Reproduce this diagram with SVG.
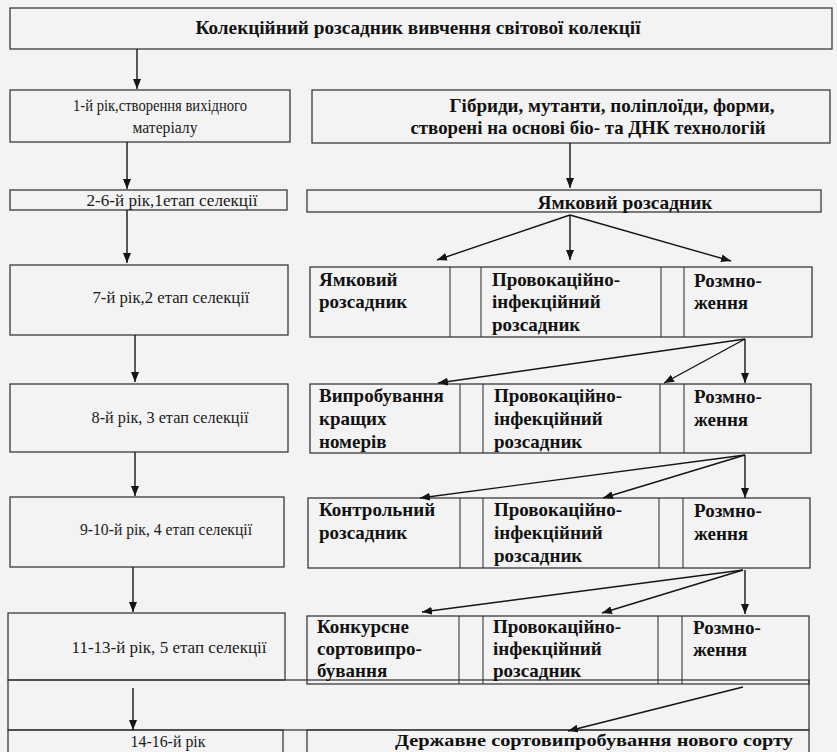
<svg xmlns="http://www.w3.org/2000/svg" width="837" height="752" viewBox="0 0 837 752">
  <defs>
    <marker id="arrow" viewBox="0 0 10 8" refX="10" refY="4" markerWidth="10" markerHeight="8" markerUnits="userSpaceOnUse" orient="auto">
      <path d="M0,0 L10,4 L0,8 z" fill="#151515"/>
    </marker>
  </defs>
  <style>
    .box { fill: none; stroke: #3a3a3a; stroke-width: 1.3; }
    .div { stroke: #3a3a3a; stroke-width: 1.1; }
    .conn line { stroke: #151515; stroke-width: 1.4; marker-end: url(#arrow); }
    text { font-family: 'Liberation Serif', 'DejaVu Serif', 'Times New Roman', serif; }
    .reg { font-size: 16px; fill: #1a1a1a; }
    .hdr { font-size: 19px; font-weight: bold; fill: #111; }
    .cell { font-size: 19px; font-weight: bold; fill: #111; }
  </style>

  <rect width="837" height="752" fill="#f3f3f3"/>

  <!-- top: collection nursery -->
  <g id="collection">
    <rect class="box" x="10" y="8" width="822" height="41"/>
    <text class="hdr" x="418" y="34" text-anchor="middle" textLength="445" lengthAdjust="spacingAndGlyphs">Колекційний розсадник вивчення світової колекції</text>
  </g>

  <!-- left column: years and stages -->
  <g id="year1">
    <rect class="box" x="10" y="90" width="280" height="52"/>
    <text class="reg" x="160" y="111" text-anchor="middle" textLength="174" lengthAdjust="spacingAndGlyphs">1-й рік,створення вихідного</text>
    <text class="reg" x="165" y="133" text-anchor="middle" textLength="65" lengthAdjust="spacingAndGlyphs">матеріалу</text>
  </g>
  <g id="year2-6">
    <rect class="box" x="10" y="190" width="277" height="20"/>
    <text class="reg" x="172" y="206" text-anchor="middle" textLength="171" lengthAdjust="spacingAndGlyphs">2-6-й рік,1етап селекції</text>
  </g>
  <g id="year7">
    <rect class="box" x="10" y="265" width="278" height="70"/>
    <text class="reg" x="171" y="303" text-anchor="middle" textLength="157" lengthAdjust="spacingAndGlyphs">7-й рік,2 етап селекції</text>
  </g>
  <g id="year8">
    <rect class="box" x="10" y="384" width="278" height="68"/>
    <text class="reg" x="170" y="423" text-anchor="middle" textLength="157" lengthAdjust="spacingAndGlyphs">8-й рік, 3 етап селекції</text>
  </g>
  <g id="year9-10">
    <rect class="box" x="10" y="497" width="274" height="70"/>
    <text class="reg" x="166" y="535" text-anchor="middle" textLength="172" lengthAdjust="spacingAndGlyphs">9-10-й рік, 4 етап селекції</text>
  </g>
  <g id="year11-13">
    <rect class="box" x="8" y="613" width="277" height="67"/>
    <text class="reg" x="169" y="653" text-anchor="middle" textLength="195" lengthAdjust="spacingAndGlyphs">11-13-й рік, 5 етап селекції</text>
  </g>
  <g id="band">
    <rect class="box" x="8" y="680" width="801" height="50"/>
  </g>
  <g id="year14-16">
    <rect class="box" x="8" y="730" width="275" height="30"/>
    <text class="reg" x="168" y="747" text-anchor="middle" textLength="75" lengthAdjust="spacingAndGlyphs">14-16-й рік</text>
  </g>

  <!-- right column: source material and nurseries -->
  <g id="hybrids">
    <rect class="box" x="312" y="90" width="518" height="53"/>
    <text class="hdr" x="612" y="112" text-anchor="middle" textLength="325" lengthAdjust="spacingAndGlyphs">Гібриди, мутанти, поліплоїди, форми,</text>
    <text class="hdr" x="588" y="134" text-anchor="middle" textLength="355" lengthAdjust="spacingAndGlyphs">створені на основі біо- та ДНК технологій</text>
  </g>
  <g id="pit-nursery">
    <rect class="box" x="307" y="190" width="514" height="22"/>
    <text class="hdr" x="625" y="209" text-anchor="middle" textLength="175" lengthAdjust="spacingAndGlyphs">Ямковий розсадник</text>
  </g>

  <g id="stage2">
    <rect class="box" x="310" y="267" width="502" height="70"/>
    <line class="div" x1="450" y1="267" x2="450" y2="337"/>
    <line class="div" x1="481" y1="267" x2="481" y2="337"/>
    <line class="div" x1="661" y1="267" x2="661" y2="337"/>
    <line class="div" x1="684" y1="267" x2="684" y2="337"/>
    <text class="cell" x="319" y="286">Ямковий</text>
    <text class="cell" x="319" y="308">розсадник</text>
    <text class="cell" x="492" y="286">Провокаційно-</text>
    <text class="cell" x="492" y="308">інфекційний</text>
    <text class="cell" x="492" y="331">розсадник</text>
    <text class="cell" x="694" y="287">Розмно-</text>
    <text class="cell" x="694" y="309">ження</text>
  </g>

  <g id="stage3">
    <rect class="box" x="310" y="384" width="501" height="69"/>
    <line class="div" x1="460" y1="384" x2="460" y2="453"/>
    <line class="div" x1="483" y1="384" x2="483" y2="453"/>
    <line class="div" x1="660" y1="384" x2="660" y2="453"/>
    <line class="div" x1="684" y1="384" x2="684" y2="453"/>
    <text class="cell" x="319" y="402">Випробування</text>
    <text class="cell" x="319" y="425">кращих</text>
    <text class="cell" x="319" y="448">номерів</text>
    <text class="cell" x="494" y="402">Провокаційно-</text>
    <text class="cell" x="494" y="425">інфекційний</text>
    <text class="cell" x="494" y="448">розсадник</text>
    <text class="cell" x="694" y="403">Розмно-</text>
    <text class="cell" x="694" y="426">ження</text>
  </g>

  <g id="stage4">
    <rect class="box" x="308" y="498" width="502" height="70"/>
    <line class="div" x1="460" y1="498" x2="460" y2="568"/>
    <line class="div" x1="483" y1="498" x2="483" y2="568"/>
    <line class="div" x1="659" y1="498" x2="659" y2="568"/>
    <line class="div" x1="683" y1="498" x2="683" y2="568"/>
    <text class="cell" x="319" y="516">Контрольний</text>
    <text class="cell" x="319" y="539">розсадник</text>
    <text class="cell" x="494" y="516">Провокаційно-</text>
    <text class="cell" x="494" y="539">інфекційний</text>
    <text class="cell" x="494" y="562">розсадник</text>
    <text class="cell" x="694" y="517">Розмно-</text>
    <text class="cell" x="694" y="540">ження</text>
  </g>

  <g id="stage5">
    <rect class="box" x="307" y="616" width="502" height="68"/>
    <line class="div" x1="459" y1="616" x2="459" y2="684"/>
    <line class="div" x1="483" y1="616" x2="483" y2="684"/>
    <line class="div" x1="658" y1="616" x2="658" y2="684"/>
    <line class="div" x1="682" y1="616" x2="682" y2="684"/>
    <text class="cell" x="317" y="633">Конкурсне</text>
    <text class="cell" x="317" y="655">сортовипро-</text>
    <text class="cell" x="317" y="677">бування</text>
    <text class="cell" x="493" y="633">Провокаційно-</text>
    <text class="cell" x="493" y="655">інфекційний</text>
    <text class="cell" x="493" y="677">розсадник</text>
    <text class="cell" x="693" y="634">Розмно-</text>
    <text class="cell" x="693" y="656">ження</text>
  </g>

  <g id="state-trial">
    <rect class="box" x="307" y="730" width="502" height="30"/>
    <text class="cell" x="594" y="746" text-anchor="middle" textLength="398" lengthAdjust="spacingAndGlyphs" style="font-size:17px">Державне сортовипробування нового сорту</text>
  </g>

  <!-- connectors -->
  <g id="connectors" class="conn">
    <line x1="137" y1="49" x2="137" y2="89"/>
    <line x1="127" y1="142" x2="127" y2="189"/>
    <line x1="570" y1="143" x2="570" y2="188"/>
    <line x1="127" y1="210" x2="127" y2="263"/>
    <line x1="570" y1="215" x2="437" y2="260"/>
    <line x1="570" y1="215" x2="570" y2="260"/>
    <line x1="570" y1="215" x2="731" y2="261"/>
    <line x1="135" y1="335" x2="135" y2="382"/>
    <line x1="745" y1="339" x2="438" y2="383"/>
    <line x1="745" y1="339" x2="664" y2="383"/>
    <line x1="745" y1="339" x2="745" y2="383"/>
    <line x1="135" y1="452" x2="135" y2="496"/>
    <line x1="745" y1="455" x2="420" y2="498"/>
    <line x1="745" y1="455" x2="603" y2="498"/>
    <line x1="745" y1="455" x2="745" y2="498"/>
    <line x1="133" y1="567" x2="133" y2="612"/>
    <line x1="743" y1="570" x2="422" y2="612"/>
    <line x1="743" y1="570" x2="602" y2="613"/>
    <line x1="745" y1="570" x2="745" y2="614"/>
    <line x1="133" y1="688" x2="133" y2="730"/>
    <line x1="743" y1="687" x2="568" y2="731"/>
  </g>
</svg>
